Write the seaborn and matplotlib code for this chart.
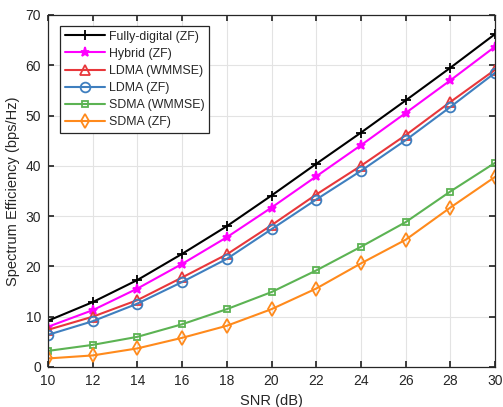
import matplotlib
matplotlib.use("Agg")
import matplotlib.pyplot as plt
import seaborn as sns
import pandas as pd

snr = [10, 12, 14, 16, 18, 20, 22, 24, 26, 28, 30]
fully_digital = [9.2, 12.9, 17.3, 22.5, 28.0, 34.1, 40.4, 46.6, 53.0, 59.5, 66.2]
hybrid = [8.0, 11.3, 15.6, 20.5, 25.8, 31.7, 37.9, 44.1, 50.5, 57.0, 63.7]
ldma_wmmse = [7.4, 10.0, 13.3, 17.8, 22.4, 28.2, 34.3, 40.0, 46.1, 52.7, 59.1]
ldma_zf = [6.4, 9.1, 12.6, 16.9, 21.5, 27.4, 33.3, 39.0, 45.1, 51.7, 58.5]
sdma_wmmse = [3.2, 4.4, 6.0, 8.5, 11.5, 14.9, 19.2, 23.9, 28.8, 34.9, 40.6]
sdma_zf = [1.7, 2.3, 3.7, 5.8, 8.2, 11.5, 15.6, 20.6, 25.3, 31.7, 37.8]

names = ["Fully-digital (ZF)", "Hybrid (ZF)", "LDMA (WMMSE)", "LDMA (ZF)", "SDMA (WMMSE)", "SDMA (ZF)"]
series = [fully_digital, hybrid, ldma_wmmse, ldma_zf, sdma_wmmse, sdma_zf]
colors = ["#000000", "#ff00ff", "#e8373b", "#3f7fbf", "#5cb353", "#ff8a1c"]
markers = ["+", "*", "^", "o", "s", "d"]
msizes = [7, 6.5, 6.5, 7, 5, 7]
filled = [True, True, False, False, False, False]

sns.set_theme(style="whitegrid")
plt.rcParams['font.family'] = ['Liberation Sans', 'DejaVu Sans']

fig = plt.figure(figsize=(5.03, 4.07), dpi=100)
ax = fig.add_axes([48/503, 1-367/407, 447/503, 352/407])

for name, vals, c, m, ms, f in zip(names, series, colors, markers, msizes, filled):
    df = pd.DataFrame({"SNR": snr, "SE": vals})
    kw = dict(marker=m, markersize=ms, color=c, linewidth=1.5, label=name,
              markeredgecolor=c, markeredgewidth=1.3)
    kw["markerfacecolor"] = c if f else "none"
    sns.lineplot(data=df, x="SNR", y="SE", ax=ax, **kw)

ax.set_xlim(10, 30)
ax.set_ylim(0, 70)
ax.set_xticks(snr)
ax.set_yticks(range(0, 71, 10))
ax.set_xlabel("SNR (dB)", fontsize=10.5, labelpad=4)
ax.set_ylabel("Spectrum Efficiency (bps/Hz)", fontsize=10.5, labelpad=4)
ax.tick_params(axis="both", labelsize=10, direction="in", length=4, color="#262626",
               labelcolor="#262626", bottom=True, left=True, top=True, right=True, pad=5)
ax.grid(True, color="#e3e3e3", linewidth=0.8)
for s in ax.spines.values():
    s.set_color("#262626")
    s.set_linewidth(0.9)
ax.set_facecolor("white")

leg = ax.legend(loc="upper left", bbox_to_anchor=(0.027, 0.97), fontsize=8.9,
                frameon=True, fancybox=False, edgecolor="#262626", framealpha=1,
                handlelength=3.2, labelspacing=0.42, borderpad=0.4, handletextpad=0.35,
                borderaxespad=0)
leg.get_frame().set_linewidth(0.9)

fig.savefig("out.png", dpi=100)
